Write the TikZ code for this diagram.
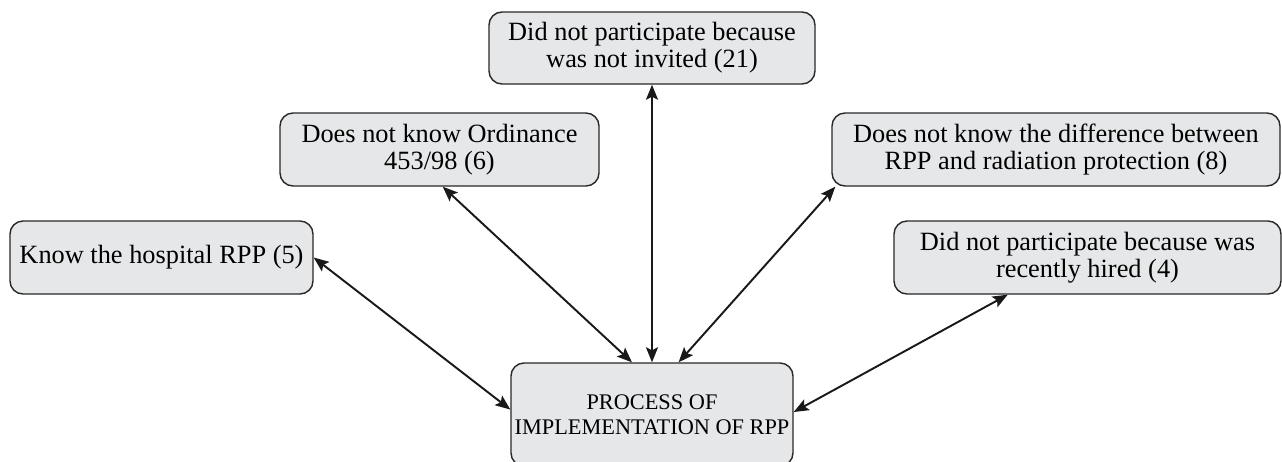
\documentclass[tikz,border=0pt]{standalone}
\usepackage{fontspec}
\setmainfont{Liberation Serif}
\usetikzlibrary{arrows.meta}
\definecolor{boxfill}{RGB}{230,231,232}
\definecolor{boxline}{RGB}{40,40,40}
\tikzset{
  box/.style={draw=boxline, fill=boxfill, line width=0.8pt, rounded corners=0.26cm,
    align=center, inner sep=0pt, font=\fontsize{15}{15.4}\selectfont},
  link/.style={line width=1.1pt, draw=black!90,
    {Stealth[length=0.3cm,width=0.24cm,inset=0.06cm]}-{Stealth[length=0.3cm,width=0.24cm,inset=0.06cm]}}
}
\begin{document}
\begin{tikzpicture}[x=0.02cm,y=-0.02cm]
\useasboundingbox (0,0) rectangle (1282,461);
\node[box, minimum width=326*0.02cm, minimum height=72*0.02cm] (top) at (652,48) {Did not participate because\\was not invited (21)};
\node[box, minimum width=319*0.02cm, minimum height=73*0.02cm] (ord) at (439.5,149.5) {Does not know Ordinance\\453/98 (6)};
\node[box, minimum width=448*0.02cm, minimum height=73*0.02cm] (diff) at (1056,149.5) {Does not know the difference between\\RPP and radiation protection (8)};
\node[box, minimum width=303*0.02cm, minimum height=73*0.02cm] (know) at (161.5,257.5) {Know the hospital RPP (5)};
\node[box, minimum width=387*0.02cm, minimum height=73*0.02cm] (rec) at (1087.5,257.5) {Did not participate because was\\recently hired (4)};
\node[box, minimum width=282*0.02cm, minimum height=103*0.02cm, font=\fontsize{12.7}{14.2}\selectfont] (proc) at (652,414.5) {PROCESS OF\\IMPLEMENTATION OF RPP};
\draw[link] (know.east) -- (proc.178.2);
\draw[link] (ord.275.5) -- (proc.111.2);
\draw[link] (top.south) -- (proc.north);
\draw[link] ([xshift=0.08cm]diff.south west) -- (proc.63.2);
\draw[link] (rec.205.2) -- (proc.1.8);
\end{tikzpicture}
\end{document}
